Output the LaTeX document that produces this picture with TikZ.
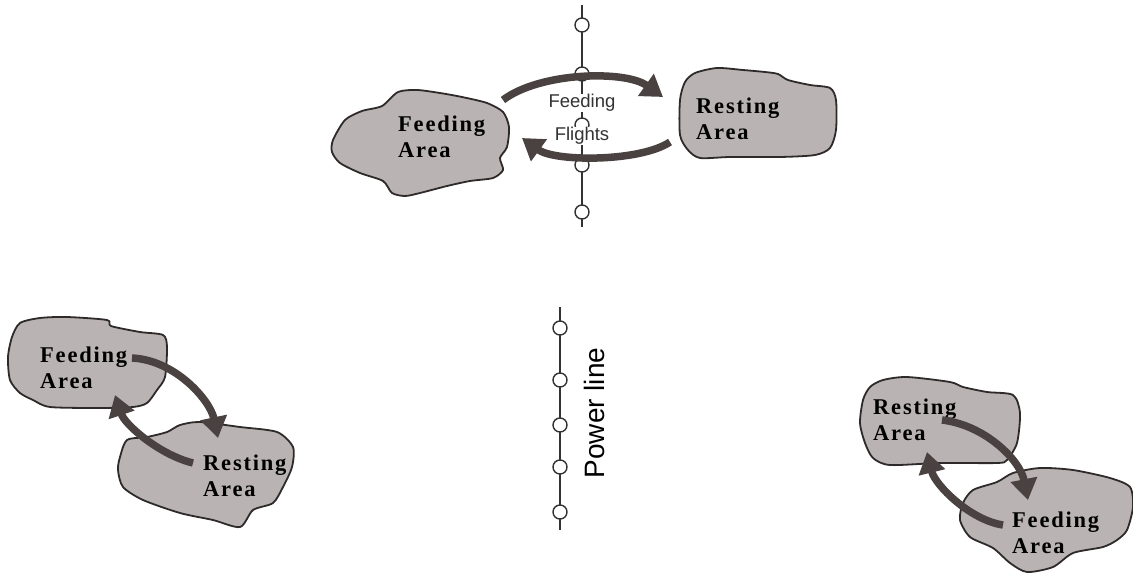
\documentclass[tikz,border=0pt]{standalone}
\usepackage{fontspec}
\setmainfont{Liberation Serif}
\newfontfamily\areafont{Liberation Serif}[LetterSpace=8]
\newfontfamily\sansf{Liberation Sans}
\usetikzlibrary{arrows.meta}
\definecolor{blobfill}{HTML}{BAB3B3}
\definecolor{blobline}{HTML}{2E2A2A}
\definecolor{flight}{HTML}{4A4240}
\definecolor{poleline}{HTML}{333333}
\tikzset{
  blob/.style={fill=blobfill, draw=blobline, line width=1.8pt, line join=round},
  arealabel/.style={font=\areafont\bfseries\fontsize{22.5}{26}\selectfont, align=left, anchor=west, inner sep=0pt, text=black},
  flightarrow/.style={draw=flight, line width=7.5pt, -{Triangle[length=21pt,width=26pt]}},
  insul/.style={circle, draw=poleline, fill=white, line width=1.4pt, minimum size=14pt, inner sep=0pt},
  wire/.style={draw=poleline, line width=1.3pt},
  flightlabel/.style={font=\sansf\fontsize{18.5}{20}\selectfont, text=black!80, fill=white, inner sep=0.5pt}
}
\begin{document}
\begin{tikzpicture}[x=1pt,y=-1pt]
\useasboundingbox (0,0) rectangle (1133,573);

% ---------- top power line ----------
\coordinate (ptop) at (582,5);
\coordinate (pbot) at (582,227);
\draw[wire] (ptop) -- (pbot);
\foreach \yy [count=\i] in {25,74,125,165,212} \node[insul] (ti\i) at (582,\yy) {};

% ---------- top blobs ----------
\draw[blob] plot[smooth cycle, tension=0.45] coordinates {
 (333,140) (345,120) (362,111) (382,106) (398,92) (417,90) (440,93) (462,97)
 (487,103) (503,112) (509,127) (507,147) (500,158) (503,170) (493,178) (470,181)
 (447,186) (420,193) (405,196) (392,193) (383,181) (360,173) (340,163) (332,152)};
\draw[blob] plot[smooth cycle, tension=0.45] coordinates {
 (680,100) (685,82) (695,73) (717,68) (743,70) (765,72) (778,74) (788,80)
 (810,85) (830,88) (836,100) (836,130) (830,148) (815,155) (780,157) (730,157)
 (700,158) (688,150) (680,135)};
\node[arealabel] (tf) at (398,137) {Feeding\\Area};
\node[arealabel] (tr) at (696,119) {Resting\\Area};

% ---------- top flights ----------
\coordinate (ta1) at (503,100);
\coordinate (ta2) at (663,97);
\coordinate (tb1) at (670,142);
\coordinate (tb2) at (522,138);
\draw[flightarrow] (ta1) .. controls (540,72) and (625,70) .. (ta2);
\draw[flightarrow] (tb1) .. controls (640,162) and (555,162) .. (tb2);
\node[flightlabel] (lf) at (582,103) {Feeding};
\node[flightlabel] (ll) at (582,136) {Flights};

% ---------- middle power line ----------
\coordinate (mtop) at (560,307);
\coordinate (mbot) at (560,530);
\draw[wire] (mtop) -- (mbot);
\foreach \yy [count=\i] in {328,380,425,467,512} \node[insul] (mi\i) at (560,\yy) {};
\node[font=\sansf\fontsize{28}{30}\selectfont, rotate=90, inner sep=0pt] (pl) at (594,413) {Power line};

% ---------- bottom left ----------
\draw[blob] plot[smooth cycle, tension=0.45] coordinates {
 (12,337) (20,323) (40,318) (67,317) (107,320) (111,326) (140,332) (163,335)
 (167,347) (165,377) (157,390) (147,403) (133,407) (100,408) (50,407) (33,400)
 (20,393) (10,380) (8,357)};
\draw[blob] plot[smooth cycle, tension=0.45] coordinates {
 (120,457) (127,440) (147,437) (167,432) (180,425) (200,422) (240,427) (277,432)
 (293,447) (292,467) (283,487) (273,503) (253,510) (240,527) (213,520) (180,513)
 (143,500) (123,487) (118,470)};
\node[arealabel] (blf) at (40,368) {Feeding\\Area};
\node[arealabel] (blr) at (203,476) {Resting\\Area};
\coordinate (la1) at (132,358);
\coordinate (la2) at (218,438);
\coordinate (lb1) at (193,463);
\coordinate (lb2) at (115,395);
\draw[flightarrow] (la1) .. controls (175,360) and (210,400) .. (la2);
\draw[flightarrow] (lb1) .. controls (160,455) and (125,425) .. (lb2);

% ---------- bottom right ----------
\draw[blob] plot[smooth cycle, tension=0.45] coordinates {
 (863,400) (870,387) (883,380) (907,377) (950,382) (963,387) (987,392) (1013,395)
 (1020,413) (1017,443) (1007,460) (997,463) (940,463) (890,465) (873,458)
 (865,443) (860,423)};
\draw[blob] plot[smooth cycle, tension=0.45] coordinates {
 (963,503) (973,490) (997,482) (1013,473) (1040,468) (1073,470) (1110,478)
 (1130,487) (1133,507) (1127,530) (1117,540) (1103,547) (1073,553) (1053,567)
 (1027,572) (1010,563) (993,548) (970,537) (960,520)};
\node[arealabel] (brr) at (873,420) {Resting\\Area};
\node[arealabel] (brf) at (1012,533) {Feeding\\Area};
\coordinate (ra1) at (942,420);
\coordinate (ra2) at (1028,500);
\coordinate (rb1) at (1003,525);
\coordinate (rb2) at (927,452);
\draw[flightarrow] (ra1) .. controls (985,425) and (1020,460) .. (ra2);
\draw[flightarrow] (rb1) .. controls (970,520) and (935,485) .. (rb2);
\end{tikzpicture}
\end{document}
